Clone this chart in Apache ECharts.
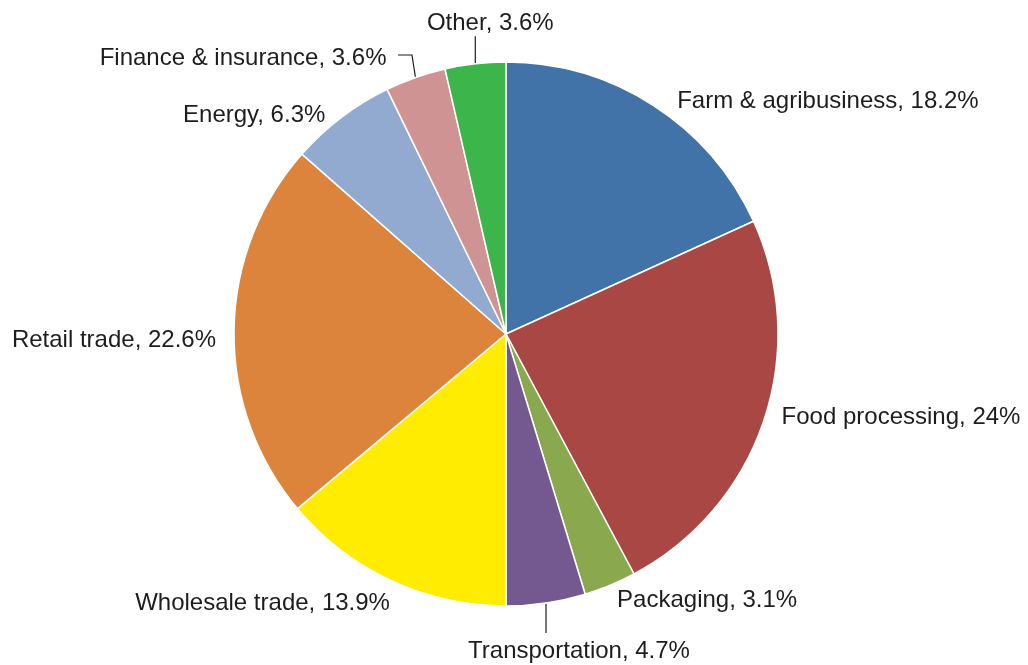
<!DOCTYPE html>
<html>
<head>
<meta charset="utf-8">
<title>Share by sector</title>
<script src="https://cdn.jsdelivr.net/npm/echarts@6/dist/echarts.min.js"></script>
<style>
  html, body { margin: 0; padding: 0; background: #ffffff; }
  #chart { width: 1028px; height: 665px; }
</style>
</head>
<body>
<div id="chart"></div>
<script>
// Sector shares (percent), clockwise from 12 o'clock
const sectors = [
  'Farm & agribusiness', 'Food processing', 'Packaging', 'Transportation',
  'Wholesale trade', 'Retail trade', 'Energy', 'Finance & insurance', 'Other'
];
const shares = [18.2, 24, 3.1, 4.7, 13.9, 22.6, 6.3, 3.6, 3.6];
const colors = [
  '#4273a8', '#a84744', '#8aa84e', '#73598f',
  '#ffec00', '#dc843b', '#92a9d0', '#d09393', '#3cb54b'
];

// Pie geometry
const CX = 506, CY = 334, R = 272;
// Small baseline correction so the text sits on the same line as its leader
const TEXT_SHIFT = 2.5;

// Label placement relative to the middle of each slice's arc:
// dx/dy offset of the text anchor, text alignment, and optional leader line
const labelPlacement = [
  { dx: 24,  dy: -6,  align: 'left' },
  { dx: 18,  dy: -6,  align: 'left' },
  { dx: 7,   dy: 13,  align: 'left' },
  { dx: 33,  dy: 46,  align: 'center', line: [[0, 0], [0, 30]] },
  { dx: -1,  dy: 20,  align: 'right' },
  { dx: -18, dy: 7,   align: 'right' },
  { dx: -16, dy: -5,  align: 'right' },
  { dx: -29, dy: -22, align: 'right', line: [[0, 0], [-3.5, -22.5], [-17.5, -22.5]] },
  { dx: 15,  dy: -43, align: 'center', line: [[0, 0], [0, -27.5]] }
];

const total = shares.reduce((a, b) => a + b, 0);
// Mid-angle of each slice, degrees clockwise from top
const midAngles = [];
{
  let acc = 0;
  shares.forEach(v => {
    const span = v / total * 360;
    midAngles.push(acc + span / 2);
    acc += span;
  });
}

const chart = echarts.init(document.getElementById('chart'), null, { renderer: 'canvas' });

chart.setOption({
  animation: false,
  backgroundColor: '#ffffff',
  series: [{
    type: 'pie',
    center: [CX, CY],
    radius: [0, R],
    startAngle: 90,
    clockwise: true,
    avoidLabelOverlap: false,
    emphasis: { disabled: true },
    itemStyle: { borderColor: '#ffffff', borderWidth: 1.5 },
    label: {
      show: true,
      position: 'outside',
      overflow: 'none',
      formatter: '{b}, {c}%',
      fontFamily: '"Liberation Sans", Arial, Helvetica, sans-serif',
      fontSize: 24,
      color: '#1f1c1d'
    },
    labelLine: {
      show: false,
      lineStyle: { color: '#1f1c1d', width: 1.2 }
    },
    data: sectors.map((name, i) => ({
      name: name,
      value: shares[i],
      itemStyle: { color: colors[i] },
      labelLine: { show: !!labelPlacement[i].line }
    })),
    labelLayout: function (params) {
      const i = params.dataIndex;
      const a = midAngles[i] * Math.PI / 180;
      const ax = CX + R * Math.sin(a);
      const ay = CY - R * Math.cos(a);
      const p = labelPlacement[i];
      const out = {
        x: ax + p.dx,
        y: ay + p.dy + TEXT_SHIFT,
        align: p.align,
        verticalAlign: 'middle'
      };
      if (p.line) {
        out.labelLinePoints = p.line.map(pt => [ax + pt[0], ay + pt[1]]);
      }
      return out;
    }
  }]
});
</script>
</body>
</html>
